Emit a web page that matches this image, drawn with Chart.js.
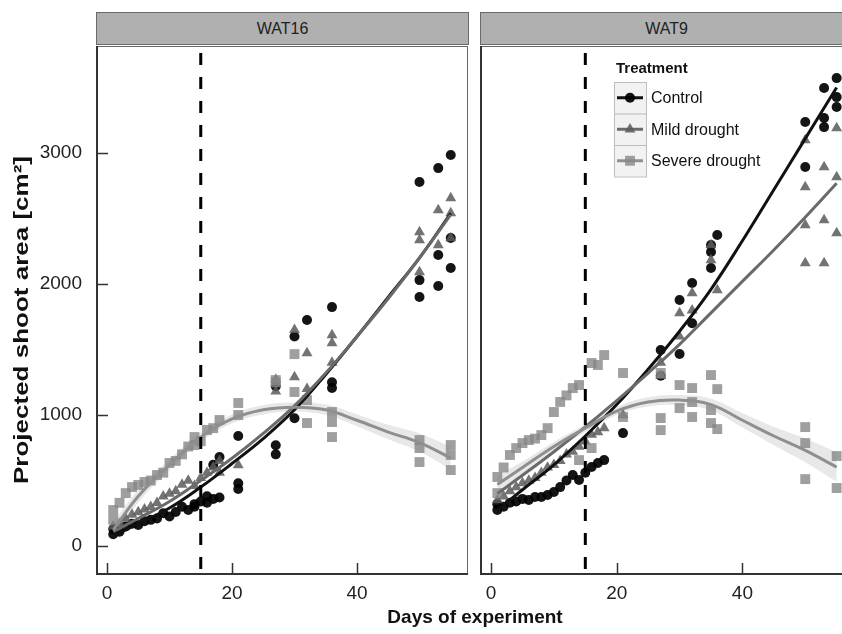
<!DOCTYPE html>
<html>
<head>
<meta charset="utf-8">
<script src="https://cdn.jsdelivr.net/npm/chart.js@4.4.1/dist/chart.umd.min.js"></script>
<style>
  body { margin:0; width:842px; height:634px; overflow:hidden; background:#fff; position:relative; font-family:"Liberation Sans", Arial, sans-serif; }
  canvas { position:absolute; top:0; }
  #c1 { left:0; }
  #c2 { left:478px; }
  .strip { position:absolute; top:12px; height:33px; width:373px; background:#b0b0b0; border:1px solid #6a6a6a; box-sizing:border-box; text-align:center; line-height:31px; font-size:16px; color:#222; }
  #xtitle { position:absolute; left:0; width:950px; top:606px; text-align:center; font-weight:bold; font-size:19px; color:#111; }
</style>
</head>
<body>
<div class="strip" style="left:96px">WAT16</div>
<div class="strip" style="left:480px">WAT9</div>
<canvas id="c1" width="470" height="634"></canvas>
<canvas id="c2" width="376" height="634"></canvas>
<div id="xtitle">Days of experiment</div>
<script>
// scatter observations [day, area]
const wat16Control = [[1,90],[1,130],[2,110],[3,150],[4,170],[5,160],[6,190],[7,200],[8,210],[9,250],[10,225],[11,260],[12,300],[13,275],[14,300],[14,320],[15,340],[16,330],[16,380],[17,360],[17,620],[18,370],[18,680],[21,840],[21,480],[21,435],[27,770],[27,700],[27,1220],[30,1600],[30,975],[32,1725],[36,1824],[36,1250],[36,1206],[50,2779],[50,2030],[50,1901],[53,2885],[53,2221],[53,1985],[55,2985],[55,2351],[55,2122]];
const wat16Mild = [[1,150],[2,170],[3,210],[4,240],[5,260],[6,280],[7,300],[8,330],[9,380],[10,400],[11,420],[12,470],[13,500],[14,460],[15,520],[16,560],[17,600],[18,650],[18,560],[21,618],[27,1180],[27,1270],[30,1290],[30,1650],[32,1473],[32,1200],[36,1610],[36,1550],[36,1400],[50,2397],[50,2336],[50,2092],[53,2565],[53,2298],[55,2656],[55,2542],[55,2351]];
const wat16Severe = [[1,275],[1,200],[2,330],[3,404],[4,450],[5,466],[6,489],[7,500],[8,542],[9,560],[10,634],[11,650],[12,700],[13,760],[14,832],[14,771],[15,800],[16,886],[17,900],[18,962],[21,1092],[21,1000],[27,1267],[27,1250],[30,1465],[30,1176],[32,1114],[32,939],[36,1023],[36,947],[36,832],[50,809],[50,748],[50,641],[55,771],[55,695],[55,580]];

const wat9Control = [[1,275],[1,320],[2,300],[3,330],[4,340],[5,360],[6,351],[7,374],[8,374],[9,390],[10,412],[11,450],[12,500],[13,542],[14,504],[15,560],[16,603],[17,634],[18,656],[21,862],[27,1496],[27,1300],[30,1878],[30,1466],[32,2008],[32,1700],[35,2298],[35,2244],[35,2122],[36,2374],[50,3237],[50,2893],[53,3267],[53,3198],[53,3496],[55,3572],[55,3427],[55,3351]];
const wat9Mild = [[1,350],[2,380],[3,420],[4,450],[5,480],[6,500],[7,520],[8,560],[9,600],[10,620],[11,650],[12,700],[13,720],[14,760],[15,800],[16,850],[17,870],[18,900],[21,1000],[27,1300],[27,1400],[30,1779],[30,1600],[32,1931],[32,1800],[35,2183],[35,2298],[36,1954],[50,3099],[50,2740],[50,2450],[50,2160],[53,2893],[53,2488],[53,2160],[55,3190],[55,2817],[55,2389]];
const wat9Severe = [[1,527],[1,404],[2,600],[3,695],[4,748],[5,786],[6,809],[7,820],[8,847],[9,900],[10,1023],[11,1100],[12,1150],[13,1206],[14,1229],[14,656],[16,1397],[16,748],[17,1382],[18,1458],[21,1321],[21,985],[27,1321],[27,977],[27,885],[30,1229],[30,1053],[32,1206],[32,1099],[32,985],[35,1305],[35,1038],[35,939],[36,1198],[36,893],[50,908],[50,786],[50,511],[55,687],[55,443]];

// fitted curves, read at these days
const fitDays = [1,5,10,15,20,25,30,35,40,45,50,55];
const wat16ControlFit = [80,170,290,450,630,820,1040,1310,1600,1900,2200,2540];
const wat16MildFit    = [110,210,340,500,670,860,1070,1320,1600,1890,2200,2530];
const wat16SevereFit  = [122,380,620,830,970,1040,1060,1040,960,870,790,672];
const wat16SevereLow  = [60,330,580,795,935,1005,1025,1000,915,815,720,585];
const wat16SevereHigh = [185,430,660,865,1005,1075,1095,1080,1005,925,860,760];
const wat9ControlFit  = [275,430,620,840,1080,1350,1640,1960,2330,2720,3110,3500];
const wat9MildFit     = [400,540,720,910,1110,1320,1540,1780,2020,2260,2510,2770];
const wat9SevereFit   = [470,600,760,900,1030,1100,1114,1080,960,840,730,603];
const wat9SevereLow   = [400,555,725,870,1000,1065,1075,1035,905,770,640,490];
const wat9SevereHigh  = [540,645,795,930,1060,1135,1153,1125,1015,910,820,716];

const xTicks = [0, 20, 40];
const yTicks = [0, 1000, 2000, 3000];
const treatments = ['Control', 'Mild drought', 'Severe drought'];

const FONT = '"Liberation Sans", Arial, sans-serif';
const styles = [
    { line: '#111111', point: 'rgba(0,0,0,0.92)', shape: 'circle', r: 5 },
    { line: '#6a6a6a', point: 'rgba(90,90,90,0.85)', shape: 'triangle', r: 6.3 },
    { line: '#8f8f8f', point: 'rgba(135,135,135,0.8)', shape: 'rect', r: 7 }
];

function pts(arr) { return arr.map(p => ({ x: p[0], y: p[1] })); }
function fit(vals) { return fitDays.map((d, i) => ({ x: d, y: vals[i] })); }

function buildDatasets(obs, fits, low, high) {
    const ds = [];
    ds.push({ type: 'line', data: fit(low), borderWidth: 0, pointRadius: 0, tension: 0.4, order: 20 });
    ds.push({ type: 'line', data: fit(high), borderWidth: 0, pointRadius: 0, tension: 0.4, fill: '-1', backgroundColor: 'rgba(205,205,205,0.45)', order: 20 });
    obs.forEach((o, i) => {
        ds.push({ type: 'scatter', data: pts(o), pointStyle: styles[i].shape, pointRadius: styles[i].r,
            backgroundColor: styles[i].point, borderWidth: 0, order: 10 - i });
    });
    fits.forEach((f, i) => {
        ds.push({ type: 'line', data: fit(f), borderColor: styles[i].line, borderWidth: 3, pointRadius: 0,
            tension: 0.4, fill: false, order: 3 - i });
    });
    return ds;
}

const panelDecor = {
    id: 'panelDecor',
    afterDatasetsDraw(chart, args, opts) {
        const ctx = chart.ctx, a = chart.chartArea, xs = chart.scales.x, ys = chart.scales.y;
        ctx.save();
        // dashed line at day 15
        const xd = xs.getPixelForValue(15);
        ctx.strokeStyle = '#000';
        ctx.lineWidth = 3;
        ctx.setLineDash([12, 12]);
        ctx.beginPath();
        ctx.moveTo(xd, a.top + 7);
        ctx.lineTo(xd, a.bottom);
        ctx.stroke();
        ctx.setLineDash([]);
        // frame
        ctx.strokeStyle = '#666';
        ctx.lineWidth = 1;
        ctx.strokeRect(a.left + 0.5, a.top + 0.5, a.width - 1, a.height - 1);
        ctx.strokeStyle = '#333';
        ctx.lineWidth = 2;
        ctx.beginPath();
        ctx.moveTo(a.left + 1, a.top);
        ctx.lineTo(a.left + 1, a.bottom - 1);
        ctx.lineTo(a.right, a.bottom - 1);
        ctx.stroke();
        // inward ticks
        ctx.lineWidth = 1.5;
        xTicks.forEach(v => {
            const x = Math.round(xs.getPixelForValue(v)) + 0.5;
            ctx.beginPath(); ctx.moveTo(x, a.bottom); ctx.lineTo(x, a.bottom - 12); ctx.stroke();
        });
        if (opts.left) {
            yTicks.forEach(v => {
                const y = Math.round(ys.getPixelForValue(v)) + 0.5;
                ctx.beginPath(); ctx.moveTo(a.left, y); ctx.lineTo(a.left + 12, y); ctx.stroke();
            });
            // y axis title, stretched along its length like the original
            ctx.fillStyle = '#111';
            ctx.font = 'bold 20px ' + FONT;
            ctx.textAlign = 'center';
            ctx.textBaseline = 'middle';
            ctx.translate(22, 320);
            ctx.rotate(-Math.PI / 2);
            ctx.scale(1.3, 1);
            ctx.fillText('Projected shoot area [cm²]', 0, 0);
            ctx.setTransform(1, 0, 0, 1, 0, 0);
        } else {
            // legend
            const lx = 136, ly = 82, bw = 32, bh = 31.5;
            ctx.fillStyle = '#111';
            ctx.font = 'bold 15px ' + FONT;
            ctx.textAlign = 'left';
            ctx.textBaseline = 'middle';
            ctx.fillText('Treatment', lx + 2, 69);
            ctx.font = '16px ' + FONT;
            treatments.forEach((t, i) => {
                const top = ly + i * bh, cy = top + bh / 2;
                ctx.fillStyle = '#f2f2f2';
                ctx.fillRect(lx, top, bw, bh);
                ctx.strokeStyle = '#bdbdbd';
                ctx.lineWidth = 1;
                ctx.strokeRect(lx + 0.5, top + 0.5, bw, bh);
                ctx.strokeStyle = styles[i].line;
                ctx.lineWidth = 3;
                ctx.beginPath(); ctx.moveTo(lx + 3, cy); ctx.lineTo(lx + bw - 3, cy); ctx.stroke();
                ctx.fillStyle = styles[i].point;
                Chart.helpers.drawPoint(ctx, { pointStyle: styles[i].shape, radius: styles[i].r, borderWidth: 0 }, lx + bw / 2, cy);
                ctx.fillStyle = '#111';
                ctx.fillText(t, lx + bw + 5, cy + 1);
            });
        }
        ctx.restore();
    }
};

function makeChart(id, obs, fits, low, high, left) {
    return new Chart(document.getElementById(id), {
        data: { datasets: buildDatasets(obs, fits, low, high) },
        plugins: [panelDecor],
        options: {
            responsive: false,
            animation: false,
            events: [],
            layout: {
                autoPadding: false,
                padding: left ? { top: 46, right: 2, left: 0, bottom: 0 } : { top: 46, right: 0, left: 2, bottom: 0 }
            },
            plugins: {
                legend: { display: false },
                tooltip: { enabled: false },
                panelDecor: { left: left }
            },
            scales: {
                x: {
                    type: 'linear', min: -1.76, max: 57.76,
                    afterBuildTicks: s => { s.ticks = xTicks.map(v => ({ value: v })); },
                    afterFit: s => { s.height = 59; s.paddingLeft = 0; s.paddingRight = 0; },
                    grid: { display: false, drawTicks: false },
                    border: { display: false },
                    ticks: { padding: 7, color: '#222', font: { size: 19, family: FONT } }
                },
                y: {
                    type: 'linear', min: -221, max: 3817,
                    display: left,
                    afterBuildTicks: s => { s.ticks = yTicks.map(v => ({ value: v })); },
                    afterFit: s => { s.width = left ? 96 : 0; s.paddingTop = 0; s.paddingBottom = 0; },
                    grid: { display: false, drawTicks: false },
                    border: { display: false },
                    ticks: { padding: 14, color: '#222', font: { size: 19, family: FONT }, callback: v => String(v) }
                }
            }
        }
    });
}

makeChart('c1', [wat16Control, wat16Mild, wat16Severe], [wat16ControlFit, wat16MildFit, wat16SevereFit], wat16SevereLow, wat16SevereHigh, true);
makeChart('c2', [wat9Control, wat9Mild, wat9Severe], [wat9ControlFit, wat9MildFit, wat9SevereFit], wat9SevereLow, wat9SevereHigh, false);
</script>
</body>
</html>
